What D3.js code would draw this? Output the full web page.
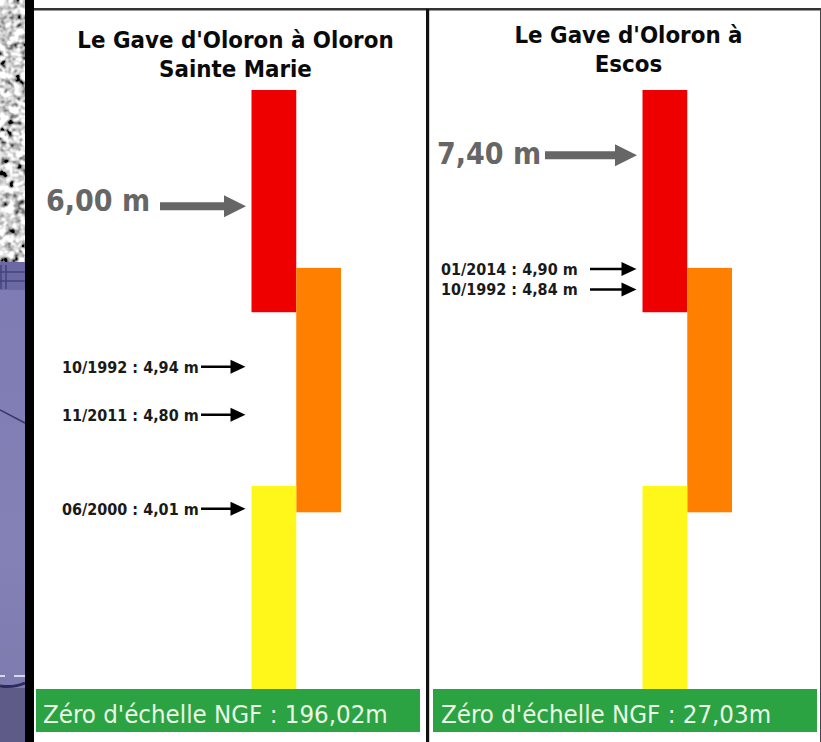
<!DOCTYPE html>
<html>
<head>
<meta charset="utf-8">
<script src="https://cdnjs.cloudflare.com/ajax/libs/d3/7.8.5/d3.min.js"></script>
<style>
  html, body { margin: 0; padding: 0; background: #fff; }
  svg { display: block; }
  text { font-family: "DejaVu Sans", sans-serif; font-stretch: condensed; }
</style>
</head>
<body>
<div id="chart"></div>
<script>
// stations, left then right
const stations = ["Oloron", "Escos"];
const titles = [
  ["Le Gave d'Oloron à Oloron", "Sainte Marie"],
  ["Le Gave d'Oloron à", "Escos"]
];
const zeroLabels = ["Zéro d'échelle NGF : 196,02m", "Zéro d'échelle NGF : 27,03m"];

// vigilance bands, read in units of the schematic gauge (0 = bottom, 10 = top)
const bandNames = ["red", "orange", "yellow"];
const bandLow = [6.29, 2.95, 0];
const bandHigh = [10, 7.03, 3.39];
const bandColors = ["#ee0000", "#ff8000", "#fff71a"];

// big grey label (flood level)
const mainLabels = ["6,00 m", "7,40 m"];
const mainLevels = [8.06, 8.91];

// historic floods, the gauge is not linear so levels are the drawn height
const floodLabelsA = ["10/1992 : 4,94 m", "11/2011 : 4,80 m", "06/2000 : 4,01 m"];
const floodLevelsA = [5.38, 4.58, 3.01];
const floodLabelsB = ["01/2014 : 4,90 m", "10/1992 : 4,84 m"];
const floodLevelsB = [7.01, 6.67];

const W = 821, H = 742;

const svg = d3.select("#chart").append("svg")
  .attr("width", W)
  .attr("height", H);

const defs = svg.append("defs");

// map texture of the photo behind the panels
const mapFilter = defs.append("filter").attr("id", "mapTex")
  .attr("x", 0).attr("y", 0).attr("width", 1).attr("height", 1);
mapFilter.append("feTurbulence")
  .attr("type", "fractalNoise").attr("baseFrequency", 0.14)
  .attr("numOctaves", 2).attr("seed", 4);
mapFilter.append("feColorMatrix").attr("type", "matrix")
  .attr("values", "1.5 1.5 1.5 0 -1.6  1.5 1.5 1.5 0 -1.6  1.5 1.5 1.5 0 -1.6  0 0 0 0 1");

const waterGrad = defs.append("linearGradient").attr("id", "water")
  .attr("x1", 0).attr("y1", 0).attr("x2", 0).attr("y2", 1);
waterGrad.append("stop").attr("offset", "0%").attr("stop-color", "#7e7bb4");
waterGrad.append("stop").attr("offset", "60%").attr("stop-color", "#8481b6");
waterGrad.append("stop").attr("offset", "100%").attr("stop-color", "#7b78ac");

// backdrop strip
svg.append("rect").attr("x", 0).attr("y", 0).attr("width", 25).attr("height", 262)
  .attr("filter", "url(#mapTex)");
svg.append("rect").attr("x", 0).attr("y", 262).attr("width", 25).attr("height", H - 262)
  .attr("fill", "url(#water)");
svg.append("rect").attr("x", 0).attr("y", 262).attr("width", 25).attr("height", 28)
  .attr("fill", "#55538f").attr("opacity", 0.45);
svg.append("path").attr("d", "M1,265V289M6,265V289M0,272H25M0,281H25")
  .attr("stroke", "#33336f").attr("stroke-width", 1.5).attr("opacity", 0.7).attr("fill", "none");
svg.append("path").attr("d", "M0,410L25,423").attr("stroke", "#38386a").attr("stroke-width", 1.5).attr("fill", "none");
svg.append("path").attr("d", "M0,676H5M14,676H25").attr("stroke", "#d8d8e8").attr("stroke-width", 2).attr("fill", "none");
svg.append("rect").attr("x", 0).attr("y", 688).attr("width", 25).attr("height", H - 688)
  .attr("fill", "#5e5b88");
svg.append("path").attr("d", "M0,686Q14,688 25,683").attr("stroke", "#2c2c5a").attr("stroke-width", 3).attr("fill", "none");

// panel frame
svg.append("rect").attr("x", 25).attr("y", 0).attr("width", 9).attr("height", H).attr("fill", "#000");
svg.append("rect").attr("x", 34).attr("y", 8).attr("width", W - 34).attr("height", 2.5).attr("fill", "#333");
svg.append("rect").attr("x", 426).attr("y", 9).attr("width", 3.2).attr("height", H - 9).attr("fill", "#111");
svg.append("rect").attr("x", 820).attr("y", 9).attr("width", 1).attr("height", H - 9).attr("fill", "#444");

// same gauge for both panels
const yScale = d3.scaleLinear().domain([0, 10]).range([689, 90]);

const panelX = d3.scaleOrdinal().domain(stations).range([0, 391]);

// three columns of the gauge
const bandX = d3.scaleBand().domain(["red-yellow", "orange"]).range([251.5, 341]).padding(0);
const bandSlot = { red: "red-yellow", orange: "orange", yellow: "red-yellow" };

function arrow(g, x1, x2, y, color, weight, headLen, headHalf) {
  g.append("path")
    .attr("d", `M${x1},${y - weight / 2}H${x2 - headLen}V${y - headHalf}L${x2},${y}L${x2 - headLen},${y + headHalf}V${y + weight / 2}H${x1}Z`)
    .attr("fill", color);
}

stations.forEach(function (st, i) {
  const g = svg.append("g").attr("transform", `translate(${panelX(st)},0)`);

  titles[i].forEach(function (line, k) {
    g.append("text")
      .attr("x", i == 0 ? 235.5 : 237.5)
      .attr("y", (i == 0 ? 48 : 43) + k * 29)
      .attr("text-anchor", "middle")
      .attr("font-size", 23.8)
      .attr("font-weight", "bold")
      .attr("fill", "#0a0a0a")
      .text(line);
  });

  g.selectAll(".band")
    .data(bandNames)
    .enter()
    .append("rect")
    .attr("class", "band")
    .attr("x", d => bandX(bandSlot[d]))
    .attr("width", bandX.bandwidth())
    .attr("y", (d, j) => yScale(bandHigh[j]))
    .attr("height", (d, j) => yScale(bandLow[j]) - yScale(bandHigh[j]))
    .attr("fill", (d, j) => bandColors[j]);

  // green zero strip
  const strip = g.append("g");
  strip.append("rect")
    .attr("x", i == 0 ? 36 : 42).attr("y", 689)
    .attr("width", 384).attr("height", 43)
    .attr("fill", "#2ca342");
  strip.append("text")
    .attr("x", i == 0 ? 43 : 50).attr("y", 723)
    .attr("font-size", 25.6)
    .attr("fill", "#eaf6e6")
    .text(zeroLabels[i]);

  // big grey arrow
  const yMain = yScale(mainLevels[i]);
  g.append("text")
    .attr("x", 46).attr("y", yMain + (i == 0 ? 5 : 9))
    .attr("font-size", 30)
    .attr("font-weight", "bold")
    .attr("fill", "#666")
    .text(mainLabels[i]);
  arrow(g, i == 0 ? 160 : 154, 246, yMain, "#666", 8, 22, 11);

  // historic floods
  const labels = i == 0 ? floodLabelsA : floodLabelsB;
  const levels = i == 0 ? floodLevelsA : floodLevelsB;
  labels.forEach(function (lab, k) {
    const y = yScale(levels[k]);
    g.append("text")
      .attr("x", i == 0 ? 62 : 50).attr("y", y + 6)
      .attr("font-size", 16)
      .attr("font-weight", "bold")
      .attr("fill", "#1a1a1a")
      .text(lab);
    arrow(g, i == 0 ? 201 : 199, 245.5, y, "#000", 2.5, 15, 7);
  });
});
</script>
</body>
</html>
